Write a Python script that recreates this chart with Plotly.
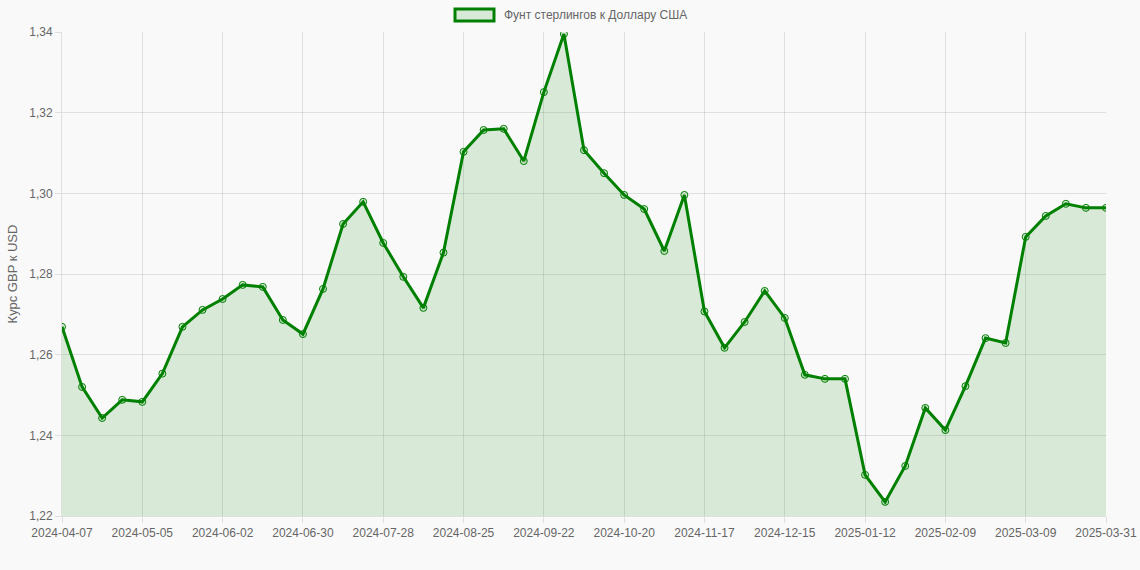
import plotly.graph_objects as go
import datetime as dt

# ---- data ----
start = dt.date(2024, 4, 7)
dates = [(start + dt.timedelta(weeks=i)).isoformat() for i in range(52)] + ["2025-03-31"]

rates = [
    1.2669, 1.2520, 1.2443, 1.2488, 1.2483, 1.2553, 1.2669, 1.2711, 1.2738, 1.2773,
    1.2768, 1.2686, 1.2651, 1.2763, 1.2924, 1.2979, 1.2877, 1.2793, 1.2716, 1.2853,
    1.3103, 1.3157, 1.3160, 1.3080, 1.3251, 1.3395, 1.3107, 1.3050, 1.2996, 1.2961,
    1.2857, 1.2996, 1.2707, 1.2617, 1.2681, 1.2758, 1.2691, 1.2550, 1.2540, 1.2540,
    1.2302, 1.2235, 1.2324, 1.2468, 1.2413, 1.2522, 1.2641, 1.2629, 1.2892, 1.2944,
    1.2974, 1.2964, 1.2964,
]

series_name = "Фунт стерлингов к Доллару США"
y_title = "Курс GBP к USD"

tick_labels = dates[::4] + [dates[-1]]

GREEN = "#008000"
FILL = "rgba(0,128,0,0.13)"
GRID = "rgba(0,0,0,0.1)"
TXT = "#666666"
BG = "#f9f9f9"

fig = go.Figure()
fig.add_trace(go.Scatter(
    x=dates, y=rates, mode="lines+markers",
    line=dict(color=GREEN, width=3),
    fill="tozeroy", fillcolor=FILL,
    marker=dict(size=7, color="rgba(0,128,0,0.12)", line=dict(color=GREEN, width=1)),
    name=series_name, showlegend=False,
    hovertemplate="%{x}: %{y}<extra></extra>",
))

fig.update_layout(
    width=1140, height=570,
    margin=dict(l=62, r=34, t=32, b=54),
    paper_bgcolor=BG, plot_bgcolor=BG,
    separators=", ",
    font=dict(family="Liberation Sans, Arial, sans-serif", size=12, color=TXT),
    xaxis=dict(
        type="category", range=[0, len(dates) - 1],
        tickmode="array", tickvals=tick_labels, ticktext=tick_labels,
        tickangle=0, automargin=False,
        showgrid=True, gridcolor=GRID, gridwidth=1,
        ticks="outside", ticklen=6, tickcolor=GRID,
        showline=True, linecolor=GRID, linewidth=1,
        zeroline=False, tickfont=dict(size=12, color=TXT),
    ),
    yaxis=dict(
        range=[1.22, 1.34], dtick=0.02, tick0=1.22, tickformat=".2f",
        automargin=False,
        showgrid=True, gridcolor=GRID, gridwidth=1,
        ticks="outside", ticklen=6, tickcolor=GRID,
        showline=True, linecolor=GRID, linewidth=1,
        zeroline=False, tickfont=dict(size=12, color=TXT),
        title=dict(text=y_title, font=dict(size=13, color=TXT), standoff=8),
    ),
    shapes=[dict(
        type="rect", xref="paper", yref="paper",
        x0=(455 - 62) / 1044, x1=(494 - 62) / 1044,
        y0=1 + (32 - 21) / 484, y1=1 + (32 - 9) / 484,
        line=dict(color=GREEN, width=3), fillcolor=FILL,
    )],
    annotations=[dict(
        text=series_name, xref="paper", yref="paper",
        x=(502 - 62) / 1044, y=1 + (32 - 15) / 484,
        xanchor="left", yanchor="middle", showarrow=False,
        font=dict(size=12, color=TXT),
    )],
)

fig.write_html(
    "out.html",
    config={"displayModeBar": False},
    post_script="document.body.style.margin='0';document.body.style.background='#f9f9f9';",
)
